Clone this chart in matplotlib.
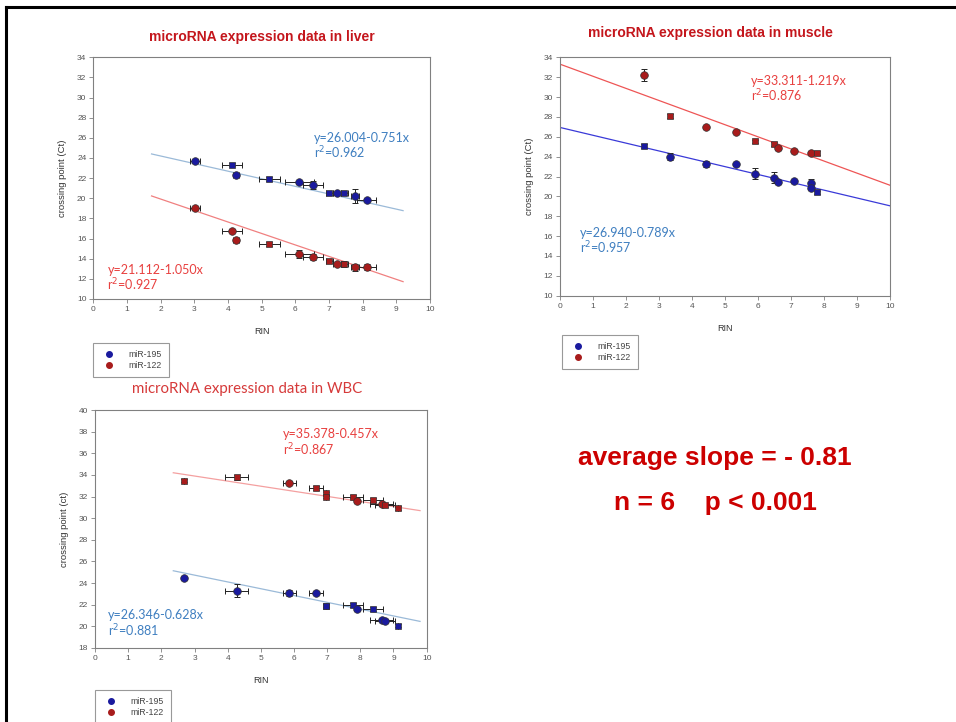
import matplotlib.pyplot as plt
from matplotlib.lines import Line2D

# %% data
# liver
liver_x = [3.02, 4.11, 4.24, 5.23, 6.12, 6.53, 7.01, 7.23, 7.45, 7.77, 8.12]
liver_xerr = [0.15, 0.3, 0.08, 0.3, 0.42, 0.3, 0.1, 0.12, 0.1, 0.12, 0.28]
liver_195 = [23.72, 23.32, 22.33, 21.9, 21.6, 21.27, 20.48, 20.48, 20.48, 20.18, 19.85]
liver_195_err = [0.2, 0.15, 0.15, 0.2, 0.15, 0.4, 0.15, 0.15, 0.15, 0.7, 0.15]
liver_195_mk = ["o", "s", "o", "s", "o", "o", "s", "o", "s", "o", "o"]
liver_122 = [19.02, 16.78, 15.82, 15.49, 14.43, 14.13, 13.74, 13.47, 13.47, 13.17, 13.17]
liver_122_err = [0.15, 0.15, 0.15, 0.2, 0.4, 0.3, 0.15, 0.15, 0.3, 0.35, 0.3]
liver_122_mk = ["o", "o", "o", "s", "o", "o", "s", "o", "s", "o", "o"]
liver_fit_x = [1.73, 9.2]
liver_fit_195 = [24.4, 18.77]
liver_fit_122 = [20.23, 11.72]

# muscle
muscle_x = [2.53, 3.33, 4.42, 5.33, 5.91, 6.48, 6.62, 7.09, 7.6, 7.8]
muscle_122 = [32.22, 28.13, 26.95, 26.51, 25.57, 25.27, 24.9, 24.6, 24.4, 24.4]
muscle_122_err = [0.6, 0.2, 0.15, 0.15, 0.15, 0.2, 0.2, 0.15, 0.15, 0.2]
muscle_122_mk = ["o", "s", "o", "o", "s", "s", "o", "o", "o", "s"]
muscle_x195 = [2.53, 3.33, 4.42, 5.33, 5.91, 6.48, 6.62, 7.09, 7.6, 7.6, 7.8]
muscle_195 = [25.1, 24.0, 23.26, 23.26, 22.3, 21.9, 21.4, 21.5, 21.3, 20.8, 20.44]
muscle_195_err = [0.2, 0.35, 0.3, 0.15, 0.55, 0.55, 0.2, 0.15, 0.5, 0.2, 0.15]
muscle_195_mk = ["s", "o", "o", "o", "o", "o", "o", "o", "o", "o", "s"]
muscle_fit_x = [0, 10]
muscle_fit_195 = [26.94, 19.05]
muscle_fit_122 = [33.31, 21.12]

# WBC
wbc_x = [2.68, 4.27, 5.86, 6.66, 6.96, 6.96, 7.77, 7.91, 8.39, 8.64, 8.74, 9.15]
wbc_xerr = [0, 0.35, 0.2, 0.2, 0, 0, 0.3, 0, 0.3, 0.35, 0.3, 0]
wbc_122 = [33.45, 33.78, 33.29, 32.77, 32.3, 32.0, 32.0, 31.6, 31.7, 31.3, 31.2, 30.95]
wbc_122_err = [0.15, 0.25, 0.15, 0.2, 0.15, 0.15, 0.15, 0.15, 0.2, 0.2, 0.15, 0.15]
wbc_122_mk = ["s", "s", "o", "s", "s", "s", "s", "o", "s", "o", "s", "s"]
wbc_195 = [24.46, 23.3, 23.1, 23.1, 21.9, 21.9, 21.97, 21.6, 21.6, 20.6, 20.5, 20.06]
wbc_195_err = [0.15, 0.6, 0.3, 0.15, 0.15, 0.15, 0.2, 0.15, 0.15, 0.15, 0.15, 0.15]
wbc_195_mk = ["o", "o", "o", "o", "s", "s", "s", "o", "s", "o", "o", "s"]
wbc_fit_x = [2.36, 9.8]
wbc_fit_195 = [25.14, 20.46]
wbc_fit_122 = [34.2, 30.7]

# %% styles
BLUE = "#1a1a9e"
RED = "#a81c1c"
TITLE_RED = "#c4161c"
EQ_BLUE = "#3f7fc0"
EQ_RED = "#e8403f"
GRAY = "#808080"

plt.rcParams["font.family"] = ["Liberation Sans", "DejaVu Sans"]

fig = plt.figure(figsize=(9.56, 7.22), dpi=100)


def style_axes(ax, ylim, yticks):
    ax.set_xlim(0, 10)
    ax.set_ylim(*ylim)
    ax.set_xticks(range(0, 11))
    ax.set_yticks(yticks)
    for s in ax.spines.values():
        s.set_color(GRAY)
        s.set_linewidth(0.8)
    ax.tick_params(direction="out", length=3, width=0.6, color=GRAY,
                   labelsize=6, labelcolor="#555555", pad=2)
    ax.set_xlabel("RIN", fontsize=6.5, color="#333333", labelpad=10)


def draw_points(ax, x, y, xerr, yerr, markers, color):
    ax.errorbar(x, y, xerr=xerr, yerr=yerr, fmt="none", ecolor="#222222",
                elinewidth=0.7, capsize=2.2, capthick=0.7, zorder=2)
    for xi, yi, m in zip(x, y, markers):
        ms = 5.5 if m == "o" else 4.8
        ax.plot(xi, yi, marker=m, markersize=ms, color=color,
                markeredgecolor="#333333", markeredgewidth=0.5, zorder=3)


def add_eq(ax, x, y, eq, r2, color):
    ax.text(x, y, eq, fontsize=9, color=color, family="Lato")
    ax.text(x, y - 1.6, r"r$^2$=" + r2, fontsize=9, color=color, family="Lato")


def add_title(x, y, s, **kw):
    fig.text(x / 956, 1 - y / 722, s, ha="center", va="center", **kw)


def add_legend(x0, y0):
    handles = [
        Line2D([], [], ls="none", marker="o", markersize=4, color=BLUE, label="miR-195"),
        Line2D([], [], ls="none", marker="o", markersize=4, color=RED, label="miR-122"),
    ]
    leg = fig.legend(handles=handles, loc="upper left", bbox_to_anchor=(x0, y0),
                     fontsize=6.3, frameon=True, fancybox=False, edgecolor=GRAY,
                     borderpad=0.8, handletextpad=1.3, handlelength=2.0,
                     labelspacing=0.25, borderaxespad=0)
    for t in leg.get_texts():
        t.set_color("#444444")
    leg.get_frame().set_linewidth(0.8)


# %% liver
ax1 = fig.add_axes([0.0976, 0.5859, 0.3522, 0.3348])
style_axes(ax1, (10, 34), range(10, 35, 2))
ax1.set_ylabel("crossing point (Ct)", fontsize=6.8, color="#333333", labelpad=7)
ax1.plot(liver_fit_x, liver_fit_195, color="#9bbad8", lw=0.9, zorder=1)
ax1.plot(liver_fit_x, liver_fit_122, color="#f08080", lw=0.9, zorder=1)
draw_points(ax1, liver_x, liver_195, liver_xerr, liver_195_err, liver_195_mk, BLUE)
draw_points(ax1, liver_x, liver_122, liver_xerr, liver_122_err, liver_122_mk, RED)
add_eq(ax1, 6.55, 25.6, "y=26.004-0.751x", "0.962", EQ_BLUE)
add_eq(ax1, 0.42, 12.5, "y=21.112-1.050x", "0.927", EQ_RED)
add_title(262, 37, "microRNA expression data in liver", fontsize=10,
          fontweight="bold", color=TITLE_RED)
add_legend(93 / 956, 1 - 343 / 722)

# %% muscle
ax2 = fig.add_axes([0.5858, 0.5904, 0.3452, 0.3302])
style_axes(ax2, (10, 34), range(10, 35, 2))
ax2.set_ylabel("crossing point (Ct)", fontsize=6.8, color="#333333", labelpad=7)
ax2.plot(muscle_fit_x, muscle_fit_195, color="#3a3ad8", lw=0.9, zorder=1)
ax2.plot(muscle_fit_x, muscle_fit_122, color="#ee5555", lw=0.9, zorder=1)
draw_points(ax2, muscle_x195, muscle_195, None, muscle_195_err, muscle_195_mk, BLUE)
draw_points(ax2, muscle_x, muscle_122, None, muscle_122_err, muscle_122_mk, RED)
add_eq(ax2, 5.78, 31.2, "y=33.311-1.219x", "0.876", EQ_RED)
add_eq(ax2, 0.6, 15.9, "y=26.940-0.789x", "0.957", EQ_BLUE)
add_title(710, 33, "microRNA expression data in muscle", fontsize=10,
          fontweight="bold", color=TITLE_RED)
add_legend(562 / 956, 1 - 335 / 722)

# %% WBC
ax3 = fig.add_axes([0.0994, 0.1025, 0.3469, 0.3296])
style_axes(ax3, (18, 40), range(18, 41, 2))
ax3.set_ylabel("crossing point (ct)", fontsize=6.8, color="#333333", labelpad=7)
ax3.plot(wbc_fit_x, wbc_fit_195, color="#9bbad8", lw=0.9, zorder=1)
ax3.plot(wbc_fit_x, wbc_fit_122, color="#f4a0a0", lw=0.9, zorder=1)
draw_points(ax3, wbc_x, wbc_195, wbc_xerr, wbc_195_err, wbc_195_mk, BLUE)
draw_points(ax3, wbc_x, wbc_122, wbc_xerr, wbc_122_err, wbc_122_mk, RED)
add_eq(ax3, 5.66, 37.45, "y=35.378-0.457x", "0.867", EQ_RED)
add_eq(ax3, 0.4, 20.7, "y=26.346-0.628x", "0.881", EQ_BLUE)
add_title(247, 389, "microRNA expression data in WBC", fontsize=10.8,
          family="Lato", color="#d63a3a")
add_legend(95 / 956, 1 - 690 / 722)

# %% summary text
fig.text(715 / 956, 1 - 458 / 722, "average slope = - 0.81", fontsize=19,
         fontweight="bold", color="#cc0000", ha="center", va="center")
fig.text(715 / 956, 1 - 503 / 722, "n = 6    p < 0.001", fontsize=19,
         fontweight="bold", color="#cc0000", ha="center", va="center")

# slide frame (top and left edges)
fig.add_artist(Line2D([6 / 956, 1], [1 - 7 / 722, 1 - 7 / 722], color="black",
                      lw=2.2, transform=fig.transFigure))
fig.add_artist(Line2D([6 / 956, 6 / 956], [0, 1 - 7 / 722], color="black",
                      lw=2.2, transform=fig.transFigure))

fig.savefig("out.png", dpi=100)
